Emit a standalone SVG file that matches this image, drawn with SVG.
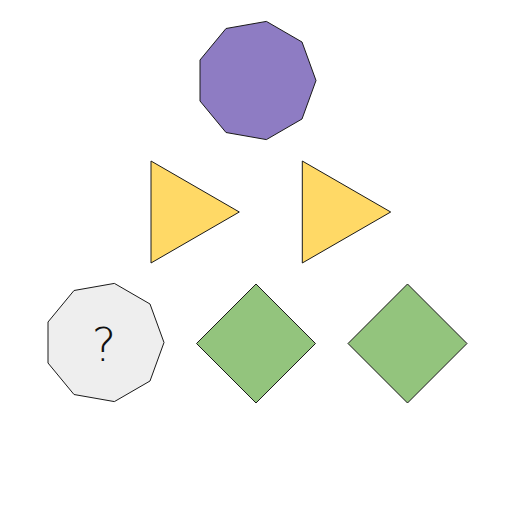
<svg xmlns="http://www.w3.org/2000/svg" width="512" height="512" viewBox="0 0 512 512">
<style>
.s{stroke:#1a1a1a;stroke-width:1;stroke-linejoin:miter}
.p{fill:#8e7cc3}.y{fill:#ffd966}.g{fill:#93c47d}.q{fill:#eeeeee}
.t{font-family:"DejaVu Sans",sans-serif;font-weight:200;font-size:46px;fill:#111;text-anchor:middle}
</style>
<rect width="512" height="512" fill="#ffffff"/>
<g id="nonagon-top">
<polygon class="s p" points="316,80.5 302,42 266.4,21.4 226,28.5 200,60 200,101 226,132.5 266.4,139.6 302,119"/>
</g>
<g id="triangle-left">
<polygon class="s y" points="151,161 151,263 239.3,212"/>
</g>
<g id="triangle-right">
<polygon class="s y" points="302.3,161 302.3,263 390.7,212"/>
</g>
<g id="nonagon-question">
<polygon class="s q" points="164,342.5 150,304 114.4,283.4 74,290.5 48,322 48,363 74,394.5 114.4,401.6 150,381"/>
<text class="t" x="104" y="361">?</text>
</g>
<g id="diamond-middle">
<polygon class="s g" points="256,284 315.5,343.5 256,403 196.5,343.5"/>
</g>
<g id="diamond-right">
<polygon class="s g" points="407.5,284 467,343.5 407.5,403 348,343.5"/>
</g>
<g id="connectors"></g>
</svg>
